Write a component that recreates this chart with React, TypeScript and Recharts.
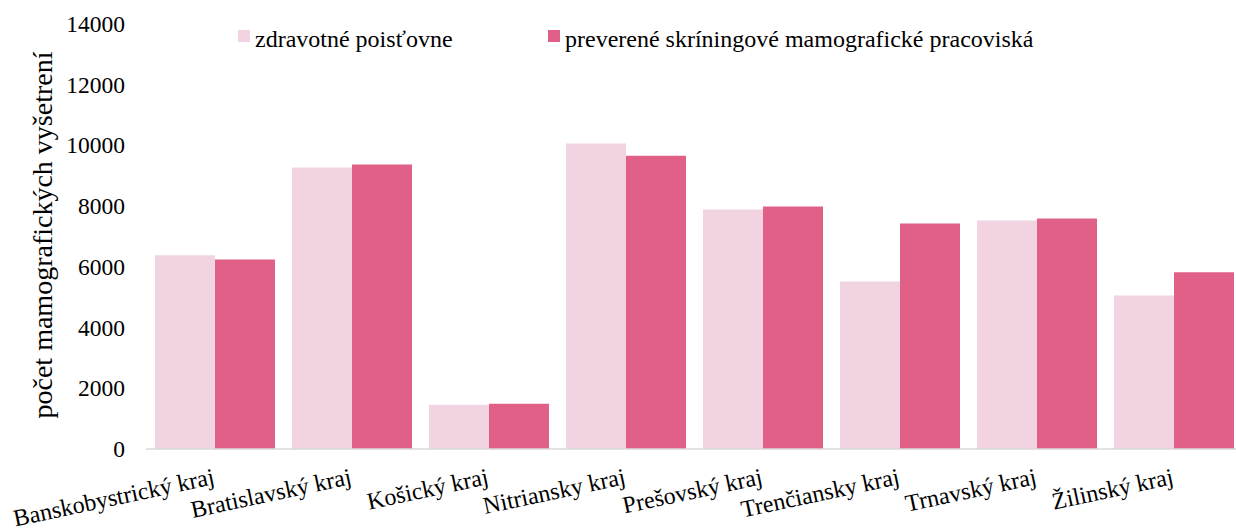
import React from "react";
import { BarChart, Bar, XAxis, YAxis } from "recharts";

const categories = [
  "Banskobystrický kraj",
  "Bratislavský kraj",
  "Košický kraj",
  "Nitriansky kraj",
  "Prešovský kraj",
  "Trenčiansky kraj",
  "Trnavský kraj",
  "Žilinský kraj",
];
const poistovne = [6380, 9270, 1460, 10060, 7890, 5520, 7530, 5060];
const pracoviska = [6240, 9370, 1490, 9660, 7990, 7430, 7590, 5820];
const yTicks = [0, 2000, 4000, 6000, 8000, 10000, 12000, 14000];

const SERIES1 = "zdravotné poisťovne";
const SERIES2 = "preverené skríningové mamografické pracoviská";
const LIGHT = "#F1D3E1";
const DARK = "#E06088";
const FONT = "Liberation Serif";

const data = categories.map((c, i) => ({
  name: c,
  a: poistovne[i],
  b: pracoviska[i],
}));

const XTick = (props: any) => {
  const { x, payload } = props;
  const ax = x + 1;
  const ay = 484;
  return (
    <text
      x={ax}
      y={ay}
      textAnchor="end"
      transform={`rotate(-12, ${ax}, ${ay})`}
      style={{ fontFamily: FONT, fontSize: 24 }}
      fill="#000"
    >
      {payload.value}
    </text>
  );
};

const YTick = (props: any) => {
  const { y, payload } = props;
  return (
    <text x={125} y={y} dy={8} textAnchor="end" style={{ fontFamily: FONT, fontSize: 23.5 }} fill="#000">
      {payload.value}
    </text>
  );
};

const LegendOverlay = () => (
  <svg
    width={1236}
    height={70}
    style={{ position: "absolute", left: 0, top: 0, pointerEvents: "none" }}
  >
    <rect x={238} y={30} width={12} height={12} fill={LIGHT} />
    <text x={255} y={47} style={{ fontFamily: FONT, fontSize: 24 }} fill="#000">
      {SERIES1}
    </text>
    <rect x={548} y={30} width={12} height={12} fill={DARK} />
    <text x={565} y={47} style={{ fontFamily: FONT, fontSize: 24 }} fill="#000">
      {SERIES2}
    </text>
  </svg>
);

export default function App() {
  return (
    <div
      style={{
        position: "fixed",
        left: 0,
        top: 0,
        width: 1236,
        height: 531,
        overflow: "hidden",
        background: "#fff",
      }}
    >
      <BarChart
        width={1250}
        height={531}
        data={data}
        margin={{ top: 24, right: 8, left: 0, bottom: 0 }}
        barCategoryGap={9}
        barGap={0}
      >
        <XAxis
          dataKey="name"
          interval={0}
          height={82}
          tick={<XTick />}
          tickLine={false}
          axisLine={{ stroke: "#D9D9D9", strokeWidth: 1.5 }}
        />
        <YAxis
          width={146}
          domain={[0, 14000]}
          ticks={yTicks}
          axisLine={false}
          tickLine={false}
          tick={<YTick />}
          label={{
            content: () => (
              <text
                transform="translate(52,235) rotate(-90)"
                textAnchor="middle"
                style={{ fontFamily: FONT, fontSize: 28 }}
                fill="#000"
              >
                počet mamografických vyšetrení
              </text>
            ),
          }}
        />
        <Bar dataKey="a" name={SERIES1} fill={LIGHT} isAnimationActive={false} />
        <Bar dataKey="b" name={SERIES2} fill={DARK} isAnimationActive={false} />
      </BarChart>
      <LegendOverlay />
    </div>
  );
}
